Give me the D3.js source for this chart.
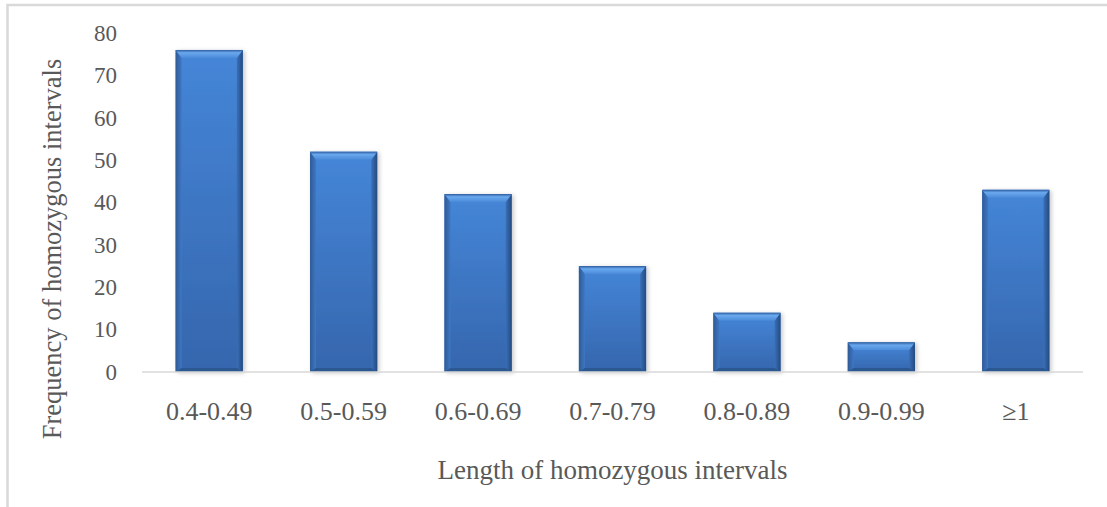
<!DOCTYPE html>
<html>
<head>
<meta charset="utf-8">
<script src="https://cdn.jsdelivr.net/npm/d3@7/dist/d3.min.js"></script>
<style>
  html, body { margin: 0; padding: 0; background: #ffffff; }
  svg { display: block; }
  text { font-family: "Liberation Serif", "Times New Roman", serif; fill: #595959; }
</style>
</head>
<body>
<svg id="chart" width="1107" height="507"></svg>
<script>
// Interval length classes and how many homozygous intervals fall in each
const categories = ["0.4-0.49", "0.5-0.59", "0.6-0.69", "0.7-0.79", "0.8-0.89", "0.9-0.99", "\u22651"];
const frequencies = [76, 52, 42, 25, 14, 7, 43];
const yTicks = [0, 10, 20, 30, 40, 50, 60, 70, 80];

const svg = d3.select("#chart");
const W = 1107, H = 507;
const plot = { left: 142, right: 1083, top: 33, bottom: 372 };

// Outer chart frame (only top and left edges fall inside the canvas)
svg.append("rect")
  .attr("x", 7.5).attr("y", 5)
  .attr("width", W + 20).attr("height", H + 20)
  .attr("fill", "none").attr("stroke", "#d9d9d9").attr("stroke-width", 2.5);

const x = d3.scaleBand().domain(categories).range([plot.left, plot.right]).paddingInner(0.5).paddingOuter(0.25);
const y = d3.scaleLinear().domain([0, 80]).range([plot.bottom, plot.top]);

// Gradients for the bevelled bar look
const defs = svg.append("defs");
const gBody = defs.append("linearGradient").attr("id", "barBody").attr("x1", 0).attr("y1", 0).attr("x2", 0).attr("y2", 1);
gBody.append("stop").attr("offset", "0%").attr("stop-color", "#4586d8");
gBody.append("stop").attr("offset", "100%").attr("stop-color", "#3566ad");
const gTop = defs.append("linearGradient").attr("id", "barTop").attr("x1", 0).attr("y1", 0).attr("x2", 0).attr("y2", 1);
gTop.append("stop").attr("offset", "0%").attr("stop-color", "#2d5d9e");
gTop.append("stop").attr("offset", "35%").attr("stop-color", "#6aa8ee");
gTop.append("stop").attr("offset", "100%").attr("stop-color", "#4a8ad8");
const gLeft = defs.append("linearGradient").attr("id", "barLeft").attr("x1", 0).attr("y1", 0).attr("x2", 1).attr("y2", 0);
gLeft.append("stop").attr("offset", "0%").attr("stop-color", "#2f5a96");
gLeft.append("stop").attr("offset", "100%").attr("stop-color", "#3f78c4");
const gRight = defs.append("linearGradient").attr("id", "barRight").attr("x1", 0).attr("y1", 0).attr("x2", 1).attr("y2", 0);
gRight.append("stop").attr("offset", "0%").attr("stop-color", "#3a70b8");
gRight.append("stop").attr("offset", "100%").attr("stop-color", "#244a80");
const shadow = defs.append("filter").attr("id", "barShadow").attr("x", "-20%").attr("y", "-20%").attr("width", "140%").attr("height", "140%");
shadow.append("feDropShadow").attr("dx", 2).attr("dy", 1).attr("stdDeviation", 2).attr("flood-color", "#000").attr("flood-opacity", 0.22);

const bars = svg.append("g").selectAll("g.bar")
  .data(categories.map((c, i) => ({ c, v: frequencies[i] })))
  .join("g").attr("class", "bar");

const bw = x.bandwidth();
const bevelTop = 8, bevelSide = 6, bevelBottom = 4;

bars.append("rect")
  .attr("x", d => x(d.c)).attr("y", d => y(d.v))
  .attr("width", bw).attr("height", d => y(0) - y(d.v))
  .attr("fill", "url(#barBody)").attr("filter", "url(#barShadow)");

// left bevel
bars.append("path").attr("fill", "url(#barLeft)").attr("d", d => {
  const x0 = x(d.c), yt = y(d.v), yb = y(0);
  const bt = Math.min(bevelTop, (yb - yt) / 2), bb = Math.min(bevelBottom, (yb - yt) / 4);
  return `M${x0},${yt}L${x0 + bevelSide},${yt + bt}L${x0 + bevelSide},${yb - bb}L${x0},${yb}Z`;
});
// right bevel
bars.append("path").attr("fill", "url(#barRight)").attr("d", d => {
  const x1 = x(d.c) + bw, yt = y(d.v), yb = y(0);
  const bt = Math.min(bevelTop, (yb - yt) / 2), bb = Math.min(bevelBottom, (yb - yt) / 4);
  return `M${x1},${yt}L${x1 - bevelSide},${yt + bt}L${x1 - bevelSide},${yb - bb}L${x1},${yb}Z`;
});
// top bevel
bars.append("path").attr("fill", "url(#barTop)").attr("d", d => {
  const x0 = x(d.c), x1 = x0 + bw, yt = y(d.v), yb = y(0);
  const bt = Math.min(bevelTop, (yb - yt) / 2);
  return `M${x0},${yt}L${x1},${yt}L${x1 - bevelSide},${yt + bt}L${x0 + bevelSide},${yt + bt}Z`;
});
// bottom bevel
bars.append("path").attr("fill", "#2c5892").attr("d", d => {
  const x0 = x(d.c), x1 = x0 + bw, yt = y(d.v), yb = y(0);
  const bb = Math.min(bevelBottom, (yb - yt) / 4);
  return `M${x0},${yb}L${x1},${yb}L${x1 - bevelSide},${yb - bb}L${x0 + bevelSide},${yb - bb}Z`;
});

// Category axis line
svg.append("line")
  .attr("x1", plot.left).attr("x2", plot.right)
  .attr("y1", y(0)).attr("y2", y(0))
  .attr("stroke", "#d9d9d9").attr("stroke-width", 1.5);

// Value axis labels
svg.append("g").selectAll("text").data(yTicks).join("text")
  .attr("x", 117).attr("y", d => y(d))
  .attr("dy", "0.34em")
  .attr("text-anchor", "end")
  .attr("font-size", 23)
  .text(d => d);

// Category labels
svg.append("g").selectAll("text").data(categories).join("text")
  .attr("x", d => x(d) + bw / 2).attr("y", 420)
  .attr("text-anchor", "middle")
  .attr("font-size", 26)
  .text(d => d);

// Axis titles
svg.append("text")
  .attr("x", (plot.left + plot.right) / 2).attr("y", 479)
  .attr("text-anchor", "middle").attr("font-size", 27)
  .text("Length of homozygous intervals");

svg.append("text")
  .attr("transform", "translate(61,249) rotate(-90)")
  .attr("text-anchor", "middle").attr("font-size", 26.5)
  .text("Frequency of homozygous intervals");
</script>
</body>
</html>
